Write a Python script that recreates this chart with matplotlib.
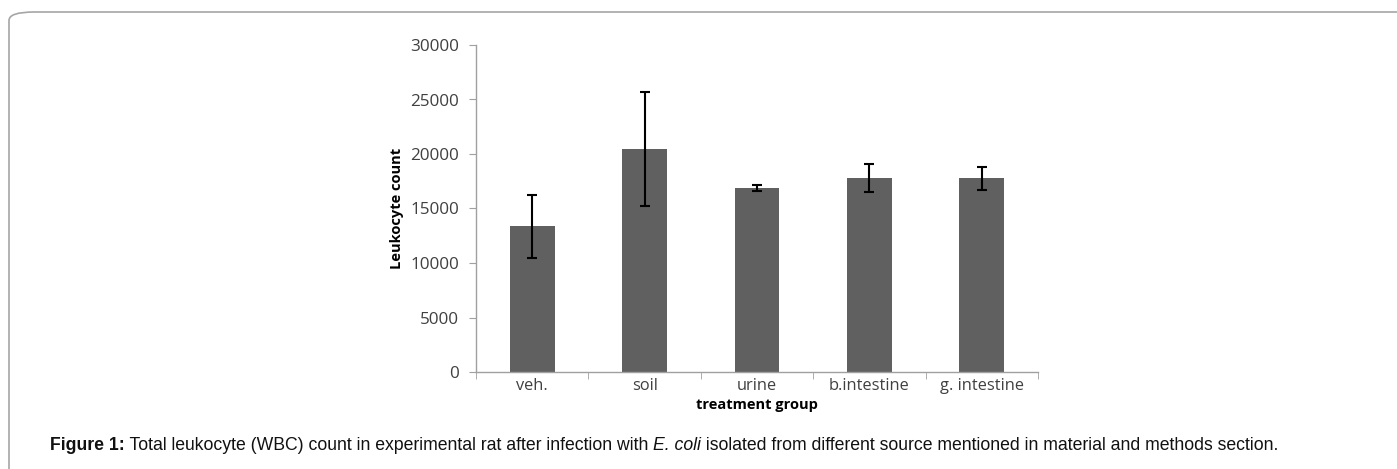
import matplotlib
matplotlib.use("Agg")
import matplotlib.pyplot as plt
from matplotlib.patches import FancyBboxPatch

# Leukocyte counts per treatment group (mean and error)
groups = ["veh.", "soil", "urine", "b.intestine", "g. intestine"]
means = [13350, 20450, 16900, 17780, 17780]
errors = [2930, 5200, 300, 1270, 1040]
y_ticks = [0, 5000, 10000, 15000, 20000, 25000, 30000]

W, H = 1397, 469
fig = plt.figure(figsize=(W / 100, H / 100), dpi=100)
fig.patch.set_facecolor("white")

# rounded frame around the figure panel
frame = FancyBboxPatch((9 / W, -0.2), 1.2, (H - 12) / H + 0.2,
                       boxstyle="round,pad=0,rounding_size=0.018",
                       transform=fig.transFigure, fill=False,
                       edgecolor="#a6a6a6", linewidth=1.2, zorder=0)
fig.patches.append(frame)

left, right = 476 / W, 1038 / W
bottom, top = (H - 372) / H, (H - 45) / H
ax = fig.add_axes([left, bottom, right - left, top - bottom])

chart_font = ["Open Sans", "DejaVu Sans"]
x = list(range(len(groups)))
ax.bar(x, means, width=0.4, color="#606060", zorder=2)
ax.errorbar(x, means, yerr=errors, fmt="none", ecolor="black",
            elinewidth=1.5, capsize=3.3, capthick=1.5, zorder=3)

ax.set_xlim(-0.5, len(groups) - 0.5)
ax.set_ylim(0, 30000)
ax.set_yticks(y_ticks)
ax.set_yticklabels([str(v) for v in y_ticks], fontsize=12.3, color="#404040",
                   family=chart_font)
ax.set_xticks(x)
ax.set_xticklabels(groups, fontsize=11.8, color="#404040", family=chart_font)
ax.tick_params(axis="x", length=0, pad=4)
ax.set_xticks([i + 0.5 for i in range(-1, len(groups))], minor=True)
ax.tick_params(axis="x", which="minor", length=5, color="#a0a0a0", direction="out")
ax.tick_params(axis="y", length=5, color="#a0a0a0", direction="out", pad=7)

for side in ["top", "right"]:
    ax.spines[side].set_visible(False)
for side in ["left", "bottom"]:
    ax.spines[side].set_color("#a0a0a0")
    ax.spines[side].set_linewidth(1.0)

ax.set_ylabel("Leukocyte count", fontsize=10.5, fontweight="bold",
              family=chart_font, color="black")
ax.yaxis.set_label_coords((404 - 476) / (1038 - 476), 0.5)
ax.set_xlabel("treatment group", fontsize=10.5, fontweight="bold",
              family=chart_font, color="black")
ax.xaxis.set_label_coords(0.5, -(398 - 372) / (372 - 45))

# caption built from bold, regular and italic runs
cap_font = ["Liberation Sans", "DejaVu Sans"]
runs = [
    ("Figure 1:", dict(fontweight="bold")),
    (" Total leukocyte (WBC) count in experimental rat after infection with ", {}),
    ("E. coli", dict(fontstyle="italic")),
    (" isolated from different source mentioned in material and methods section.", {}),
]
fig.canvas.draw()
renderer = fig.canvas.get_renderer()
xpos = 50 / W
ycap = (H - 445) / H
for txt, kw in runs:
    t = fig.text(xpos, ycap, txt, fontsize=12.7, family=cap_font,
                 va="center", ha="left", color="#111111", **kw)
    bb = t.get_window_extent(renderer=renderer)
    xpos += bb.width / W

fig.savefig("out.png", dpi=100, facecolor="white")
